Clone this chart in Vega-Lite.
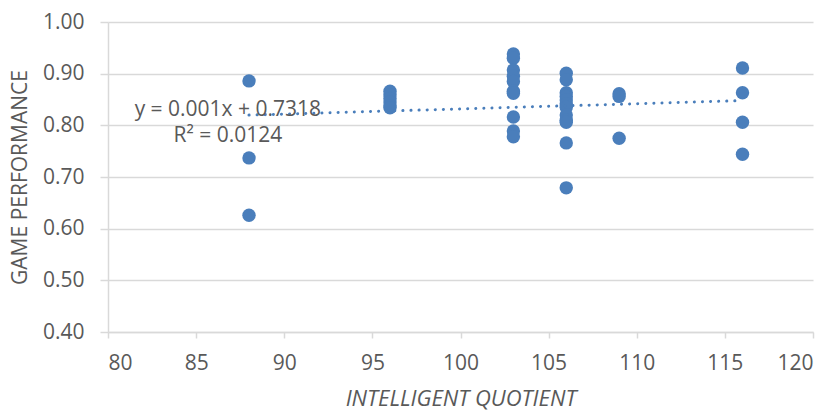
{
  "$schema": "https://vega.github.io/schema/vega-lite/v6.json",
  "width": 705,
  "height": 310,
  "autosize": "none",
  "padding": {"left": 108, "top": 22, "right": 23, "bottom": 80},
  "background": "white",
  "config": {"view": {"stroke": null}, "font": "Open Sans"},
  "datasets": {
    "points": [
      {"iq": 88, "perf": 0.886}, {"iq": 88, "perf": 0.737}, {"iq": 88, "perf": 0.626},
      {"iq": 96, "perf": 0.866}, {"iq": 96, "perf": 0.859}, {"iq": 96, "perf": 0.852}, {"iq": 96, "perf": 0.845}, {"iq": 96, "perf": 0.838}, {"iq": 96, "perf": 0.834},
      {"iq": 103, "perf": 0.938}, {"iq": 103, "perf": 0.930}, {"iq": 103, "perf": 0.907}, {"iq": 103, "perf": 0.895}, {"iq": 103, "perf": 0.885}, {"iq": 103, "perf": 0.866}, {"iq": 103, "perf": 0.862}, {"iq": 103, "perf": 0.816}, {"iq": 103, "perf": 0.789}, {"iq": 103, "perf": 0.778},
      {"iq": 106, "perf": 0.901}, {"iq": 106, "perf": 0.888}, {"iq": 106, "perf": 0.863}, {"iq": 106, "perf": 0.856}, {"iq": 106, "perf": 0.849}, {"iq": 106, "perf": 0.842}, {"iq": 106, "perf": 0.835}, {"iq": 106, "perf": 0.820}, {"iq": 106, "perf": 0.810}, {"iq": 106, "perf": 0.806}, {"iq": 106, "perf": 0.766}, {"iq": 106, "perf": 0.679},
      {"iq": 109, "perf": 0.861}, {"iq": 109, "perf": 0.856}, {"iq": 109, "perf": 0.775},
      {"iq": 116, "perf": 0.911}, {"iq": 116, "perf": 0.863}, {"iq": 116, "perf": 0.806}, {"iq": 116, "perf": 0.744}
    ],
    "trend": [
      {"iq": 88, "perf": 0.8198},
      {"iq": 116, "perf": 0.8478}
    ],
    "labels": [
      {"iq": 86.8, "perf": 0.830, "text": "y = 0.001x + 0.7318"},
      {"iq": 86.8, "perf": 0.779, "text": "R² = 0.0124"}
    ]
  },
  "layer": [
    {
      "data": {"name": "points"},
      "mark": {"type": "circle", "size": 180, "color": "#4A7EBB", "opacity": 1},
      "encoding": {
        "x": {
          "field": "iq", "type": "quantitative",
          "scale": {"domain": [80, 120], "nice": false, "zero": false},
          "axis": {
            "values": [80, 85, 90, 95, 100, 105, 110, 115, 120],
            "grid": false,
            "domainColor": "#D9D9D9", "domainWidth": 1.5,
            "tickColor": "#D9D9D9", "tickSize": 6, "tickWidth": 1.5,
            "labelFontSize": 21, "labelColor": "#595959", "labelPadding": 14,
            "title": "INTELLIGENT QUOTIENT",
            "titleFontSize": 22, "titleFontStyle": "italic", "titleFontWeight": "normal",
            "titleColor": "#595959", "titlePadding": 15
          }
        },
        "y": {
          "field": "perf", "type": "quantitative",
          "scale": {"domain": [0.4, 1.0], "nice": false, "zero": false},
          "axis": {
            "values": [0.4, 0.5, 0.6, 0.7, 0.8, 0.9, 1.0],
            "format": ".2f",
            "grid": true, "gridColor": "#D9D9D9", "gridWidth": 1.5,
            "domainColor": "#D9D9D9", "domainWidth": 1.5,
            "tickColor": "#D9D9D9", "tickSize": 8, "tickWidth": 1.5,
            "labelFontSize": 21, "labelColor": "#595959", "labelPadding": 16,
            "title": "GAME PERFORMANCE",
            "titleFontSize": 21, "titleFontWeight": "normal",
            "titleColor": "#595959", "titlePadding": 12
          }
        }
      }
    },
    {
      "data": {"name": "trend"},
      "mark": {"type": "line", "color": "#4A7EBB", "strokeWidth": 3, "strokeDash": [0.1, 8], "strokeCap": "round"},
      "encoding": {
        "x": {"field": "iq", "type": "quantitative"},
        "y": {"field": "perf", "type": "quantitative"}
      }
    },
    {
      "data": {"name": "labels"},
      "mark": {"type": "text", "fontSize": 21, "color": "#595959", "align": "center", "baseline": "middle"},
      "encoding": {
        "x": {"field": "iq", "type": "quantitative"},
        "y": {"field": "perf", "type": "quantitative"},
        "text": {"field": "text"}
      }
    }
  ]
}
